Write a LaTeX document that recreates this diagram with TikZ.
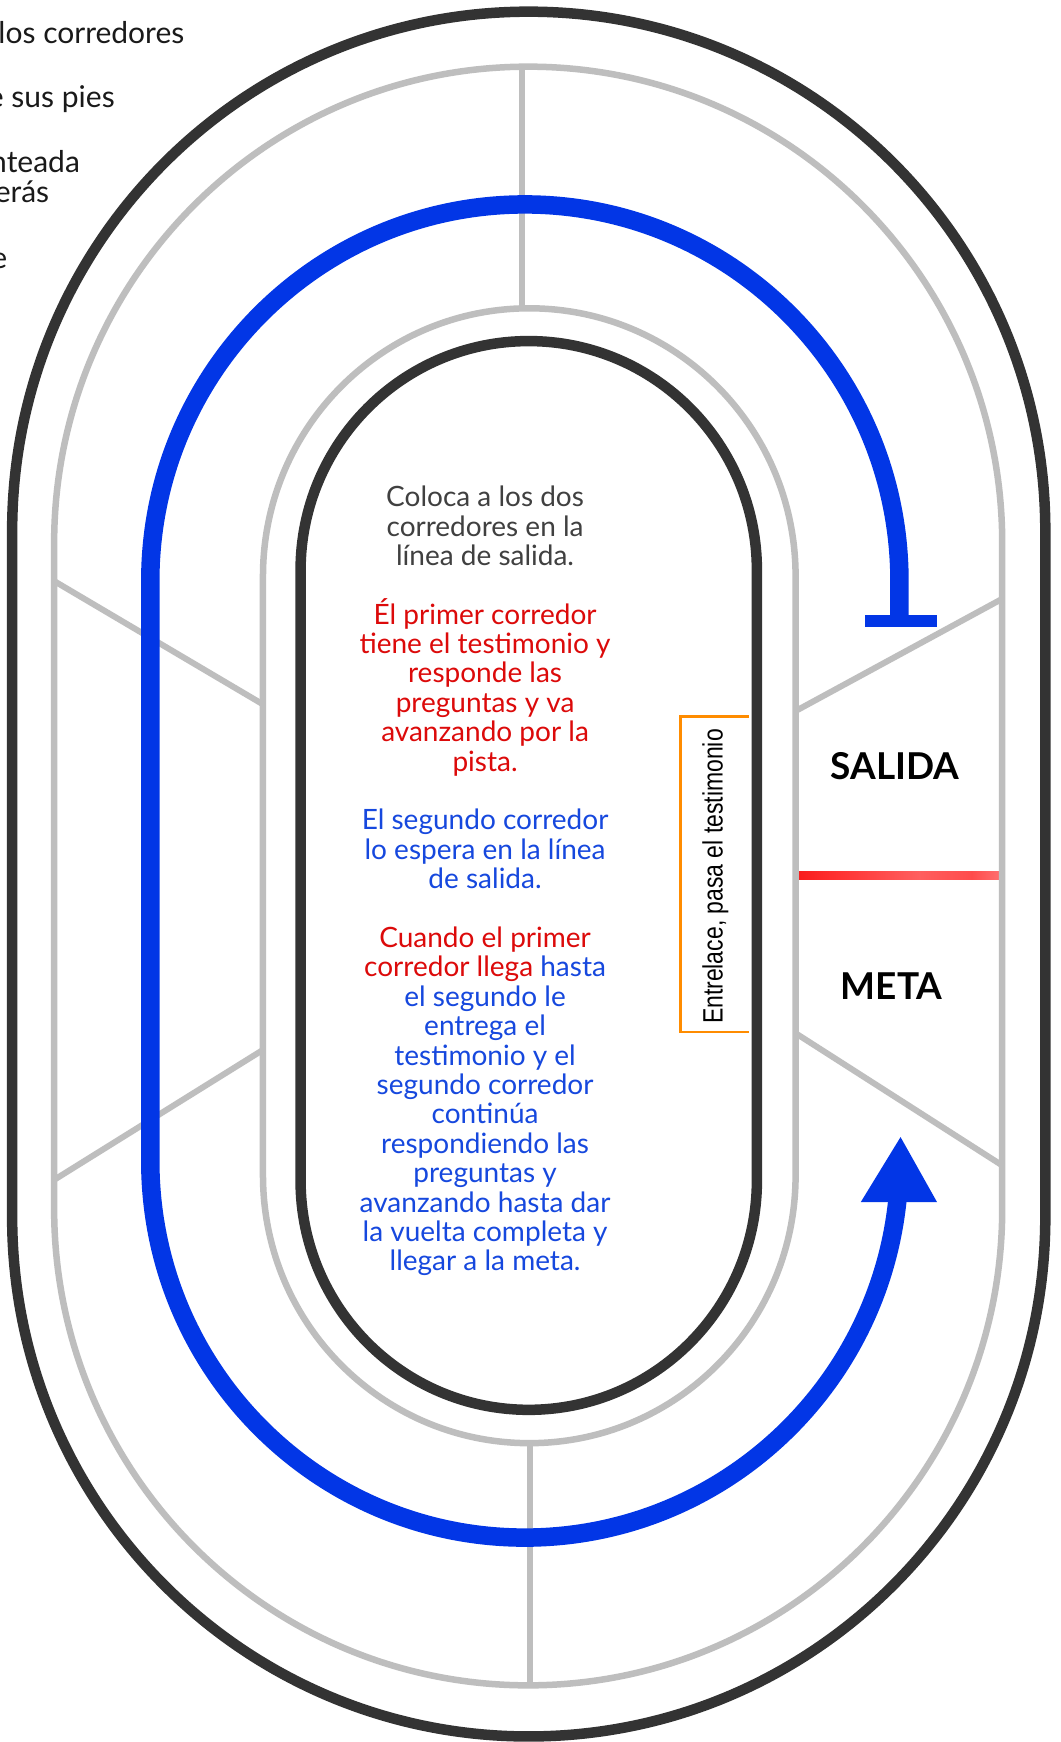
\documentclass[tikz,border=0pt]{standalone}
\usepackage{fontspec}
\usepackage{graphicx}
\setmainfont{Lato}
\newfontfamily\arialfont{Liberation Sans}
\usetikzlibrary{arrows.meta}
\definecolor{trackblack}{RGB}{51,51,51}
\definecolor{trackgray}{RGB}{190,190,190}
\definecolor{runblue}{RGB}{2,54,230}
\definecolor{txtgray}{RGB}{64,64,64}
\definecolor{txtblack}{RGB}{26,26,26}
\definecolor{txtred}{RGB}{220,10,10}
\definecolor{txtblue}{RGB}{22,72,222}
\definecolor{bracketorange}{RGB}{255,140,0}
\definecolor{finA}{RGB}{240,0,0}
\definecolor{finB}{RGB}{255,50,50}
\definecolor{finC}{RGB}{255,95,95}
\definecolor{finD}{RGB}{255,75,75}
\definecolor{finE}{RGB}{255,165,165}
\definecolor{finF}{RGB}{240,20,20}
\pgfdeclarehorizontalshading{finishline}{100bp}{color(0bp)=(finA); color(12bp)=(finA); color(35bp)=(finB); color(55bp)=(finC); color(68bp)=(finD); color(86bp)=(finE); color(100bp)=(finF)}
\newcommand\trackloop[5]{\draw[#1] ({#2-#3},{#4+#3}) arc[start angle=180,end angle=360,radius=#3] -- ({#2+#3},{#5-#3}) arc[start angle=0,end angle=180,radius=#3] -- cycle;}
\newcommand\instrline[3]{\node[centertext,text=#2] (line#1) at (439,{456+26.46*#1}) {#3};}
\begin{document}
\begin{tikzpicture}[x=1.105pt,y=-1.111pt,
  blackloop/.style={draw=trackblack,line width=10.5pt},
  grayloop/.style={draw=trackgray,line width=6.5pt},
  radial/.style={draw=trackgray,line width=6pt},
  runpath/.style={draw=runblue,line width=18.5pt},
  bracket/.style={draw=bracketorange,line width=2.6pt},
  toptext/.style={text=txtblack,font=\fontsize{30}{32}\selectfont,inner sep=0pt},
  centertext/.style={anchor=base,font=\fontsize{28}{29.3}\selectfont,inner sep=0pt},
  zonelabel/.style={text=black,font=\bfseries\fontsize{37}{40}\selectfont,inner sep=0pt}]
\useasboundingbox (0,0) rectangle (960,1568);
\fill[white] (0,0) rectangle (960,1568);
% finish line
\shade[shading=finishline] (722,784) rectangle (905,791.5);
% track outlines
\trackloop{blackloop}{478.5}{467.5}{10.5}{1563}
\trackloop{grayloop}{478}{429}{60}{1517}
\trackloop{grayloop}{479}{241}{277.5}{1299}
\trackloop{blackloop}{478.5}{206.5}{307}{1269}
% lane dividers
\draw[radial] (472,60) -- (472,277.5);
\draw[radial] (479.5,1299) -- (479.5,1517);
\draw[radial] (49,523) -- (238,634);
\draw[radial] (49,1062) -- (238,945);
\draw[radial] (720,640) -- (907,539);
\draw[radial] (720,930) -- (907,1049);
% runner path
\draw[runpath] (814,553.5) -- (814,523) arc[start angle=0,end angle=-180,radius=339] -- (136,1045) arc[start angle=180,end angle=5.93,radius=339];
\fill[runblue] (783,553.5) rectangle (848,564);
\fill[runblue] (815,1023.5) -- (848,1082) -- (779,1082) -- cycle;
% relay bracket
\draw[bracket] (678,645) -- (616,645) -- (616,929) -- (678,929);
\node[rotate=90,anchor=base,inner sep=0pt,font=\arialfont\fontsize{28}{30}\selectfont] (relay) at (654,789) {\scalebox{0.82}[1]{Entrelace, pasa el testimonio}};
% labels
\node[zonelabel] (salida) at (810,690) {SALIDA};
\node[zonelabel] (meta) at (807,888) {META};
% top-left cut text
\node[toptext,anchor=base east] (t1) at (167,39) {los corredores};
\node[toptext,anchor=base east] (t2) at (104,96.5) {e sus pies};
\node[toptext,anchor=base east] (t3) at (72.5,155) {nteada};
\node[toptext,anchor=base east] (t4) at (44.7,182.5) {erás};
\node[toptext,anchor=base east] (t5) at (6.6,241.6) {e};
% instructions
\instrline{0}{txtgray}{Coloca a los dos}
\instrline{1}{txtgray}{corredores en la}
\instrline{2}{txtgray}{línea de salida.}
\instrline{4}{txtred}{Él primer corredor}
\instrline{5}{txtred}{tiene el testimonio y}
\instrline{6}{txtred}{responde las}
\instrline{7}{txtred}{preguntas y va}
\instrline{8}{txtred}{avanzando por la}
\instrline{9}{txtred}{pista.}
\instrline{11}{txtblue}{El segundo corredor}
\instrline{12}{txtblue}{lo espera en la línea}
\instrline{13}{txtblue}{de salida.}
\instrline{15}{txtred}{Cuando el primer}
\instrline{16}{txtblue}{\textcolor{txtred}{corredor llega} hasta}
\instrline{17}{txtblue}{el segundo le}
\instrline{18}{txtblue}{entrega el}
\instrline{19}{txtblue}{testimonio y el}
\instrline{20}{txtblue}{segundo corredor}
\instrline{21}{txtblue}{continúa}
\instrline{22}{txtblue}{respondiendo las}
\instrline{23}{txtblue}{preguntas y}
\instrline{24}{txtblue}{avanzando hasta dar}
\instrline{25}{txtblue}{la vuelta completa y}
\instrline{26}{txtblue}{llegar a la meta.}
\end{tikzpicture}
\end{document}
